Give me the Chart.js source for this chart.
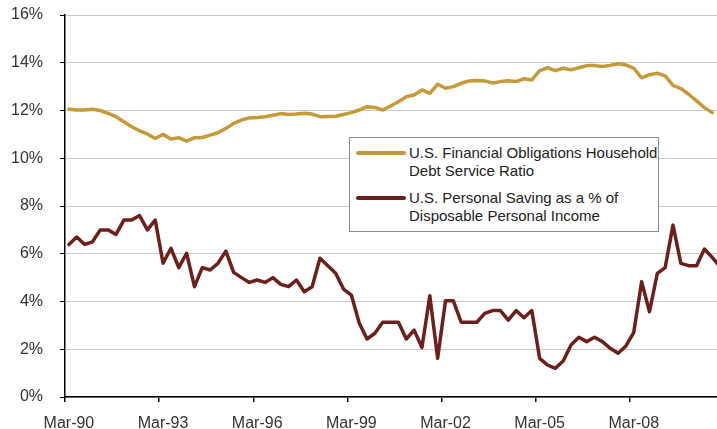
<!DOCTYPE html>
<html>
<head>
<meta charset="utf-8">
<script src="https://cdn.jsdelivr.net/npm/chart.js@4"></script>
<style>
  html, body { margin: 0; padding: 0; background: #fff; overflow: hidden; }
  #wrap { position: relative; width: 724px; height: 429px; }
  #chart { display: block; }
  #legend {
    position: absolute; left: 349px; top: 137px; width: 308px; height: 93px;
    background: #fff; border: 1.5px solid #8c8c8c;
    font-family: "Liberation Sans", Arial, sans-serif; font-size: 15px; color: #222;
  }
  .item { position: absolute; left: 0; }
  .swatch { position: absolute; left: 6px; width: 50px; height: 4px; border-radius: 2px; }
  .txt { position: absolute; left: 59px; line-height: 18px; white-space: nowrap; }
</style>
</head>
<body>
<div id="wrap">
  <canvas id="chart" width="724" height="429"></canvas>
  <div id="legend"></div>
</div>
<script>
const quarters = [
  'Mar-90', 'Jun-90', 'Sep-90', 'Dec-90', 'Mar-91', 'Jun-91', 'Sep-91', 'Dec-91',
  'Mar-92', 'Jun-92', 'Sep-92', 'Dec-92', 'Mar-93', 'Jun-93', 'Sep-93', 'Dec-93',
  'Mar-94', 'Jun-94', 'Sep-94', 'Dec-94', 'Mar-95', 'Jun-95', 'Sep-95', 'Dec-95',
  'Mar-96', 'Jun-96', 'Sep-96', 'Dec-96', 'Mar-97', 'Jun-97', 'Sep-97', 'Dec-97',
  'Mar-98', 'Jun-98', 'Sep-98', 'Dec-98', 'Mar-99', 'Jun-99', 'Sep-99', 'Dec-99',
  'Mar-00', 'Jun-00', 'Sep-00', 'Dec-00', 'Mar-01', 'Jun-01', 'Sep-01', 'Dec-01',
  'Mar-02', 'Jun-02', 'Sep-02', 'Dec-02', 'Mar-03', 'Jun-03', 'Sep-03', 'Dec-03',
  'Mar-04', 'Jun-04', 'Sep-04', 'Dec-04', 'Mar-05', 'Jun-05', 'Sep-05', 'Dec-05',
  'Mar-06', 'Jun-06', 'Sep-06', 'Dec-06', 'Mar-07', 'Jun-07', 'Sep-07', 'Dec-07',
  'Mar-08', 'Jun-08', 'Sep-08', 'Dec-08', 'Mar-09', 'Jun-09', 'Sep-09', 'Dec-09',
  'Mar-10', 'Jun-10', 'Sep-10', 'Dec-10'
];

// household debt service ratio, %
const debtService = [
  12.05, 12.02, 12.02, 12.05, 12.0, 11.88, 11.74, 11.53, 11.32, 11.15, 11.02, 10.83,
  11.0, 10.81, 10.86, 10.72, 10.86, 10.87, 10.97, 11.07, 11.25, 11.46, 11.6, 11.69,
  11.71, 11.74, 11.8, 11.87, 11.83, 11.85, 11.88, 11.85, 11.74, 11.75, 11.76, 11.83,
  11.91, 12.02, 12.16, 12.13, 12.02, 12.19, 12.37, 12.58, 12.65, 12.86, 12.72, 13.1,
  12.93, 13.0, 13.14, 13.24, 13.26, 13.24, 13.15, 13.21, 13.25, 13.21, 13.33, 13.28,
  13.67, 13.79, 13.67, 13.77, 13.7, 13.79, 13.88, 13.88, 13.84, 13.89, 13.96, 13.91,
  13.77, 13.37, 13.5, 13.56, 13.45, 13.05, 12.92, 12.68, 12.4, 12.12, 11.91, null
];

// personal saving as % of disposable income
const savingRate = [
  6.39, 6.7, 6.39, 6.5, 7.0, 7.0, 6.81, 7.41, 7.41, 7.6, 7.0, 7.41,
  5.6, 6.23, 5.42, 6.02, 4.62, 5.42, 5.32, 5.6, 6.11, 5.22, 5.0, 4.8,
  4.9, 4.8, 5.0, 4.72, 4.62, 4.9, 4.41, 4.62, 5.81, 5.5, 5.18, 4.52,
  4.27, 3.1, 2.43, 2.67, 3.13, 3.13, 3.13, 2.43, 2.8, 2.07, 4.24, 1.62,
  4.03, 4.03, 3.13, 3.13, 3.13, 3.5, 3.62, 3.62, 3.22, 3.62, 3.32, 3.62,
  1.62, 1.34, 1.2, 1.51, 2.18, 2.5, 2.32, 2.5, 2.32, 2.04, 1.83, 2.14,
  2.71, 4.83, 3.57, 5.18, 5.42, 7.2, 5.6, 5.5, 5.5, 6.2, 5.85, 5.45
];

const seriesNames = [
  ['U.S. Financial Obligations Household', 'Debt Service Ratio'],
  ['U.S. Personal Saving as a % of', 'Disposable Personal Income']
];
const seriesColors = ['#c49b38', '#6d1f1b'];

const font = { family: '"Liberation Sans", Arial, sans-serif', size: 16 };

// canvas is a few px wider than the window so the plot runs off the right edge like the original
const chart = new Chart(document.getElementById('chart'), {
  type: 'line',
  data: {
    labels: quarters,
    datasets: [
      { label: seriesNames[0], data: debtService, borderColor: seriesColors[0] },
      { label: seriesNames[1], data: savingRate, borderColor: seriesColors[1] }
    ]
  },
  options: {
    responsive: false,
    animation: false,
    layout: { padding: { top: 15, left: 0, right: 0, bottom: 0 } },
    elements: {
      point: { radius: 0 },
      line: { borderWidth: 3.5, tension: 0, borderJoinStyle: 'round', borderCapStyle: 'round' }
    },
    plugins: { legend: { display: false }, tooltip: { enabled: false } },
    scales: {
      x: {
        offset: true,
        border: { color: '#000', width: 1.5 },
        grid: {
          offset: true,
          drawOnChartArea: false,
          tickLength: 5,
          color: ctx => (ctx.index % 12 === 0 ? '#000' : 'rgba(0,0,0,0)'),
          lineWidth: 1.5
        },
        ticks: {
          autoSkip: false,
          maxRotation: 0,
          padding: 12,
          color: '#333',
          font: font,
          callback: function (v, i) { return i % 12 === 0 ? this.getLabelForValue(v) : ''; }
        },
        afterFit: s => {
          s.height = 32;
          s.paddingLeft = 0;
          s.paddingRight = 0;
        }
      },
      y: {
        min: 0,
        max: 16,
        border: { color: '#000', width: 1.5 },
        grid: { color: '#c8c8c8', lineWidth: 1, tickColor: '#000', tickLength: 5 },
        ticks: { stepSize: 2, padding: 17, color: '#333', font: font, callback: v => v + '%' },
        afterFit: s => {
          s.width = 65;
          s.paddingTop = 8;
          s.paddingBottom = 8;
        }
      }
    }
  }
});

// legend box with two-line entries
const legendTops = [6, 51];
const legend = document.getElementById('legend');
chart.data.datasets.forEach((ds, i) => {
  const item = document.createElement('div');
  item.className = 'item';
  item.style.top = legendTops[i] + 'px';
  item.innerHTML = '<div class="swatch" style="top:7px;background:' + ds.borderColor + '"></div>' +
    '<div class="txt">' + ds.label.join('<br>') + '</div>';
  legend.appendChild(item);
});
</script>
</body>
</html>
